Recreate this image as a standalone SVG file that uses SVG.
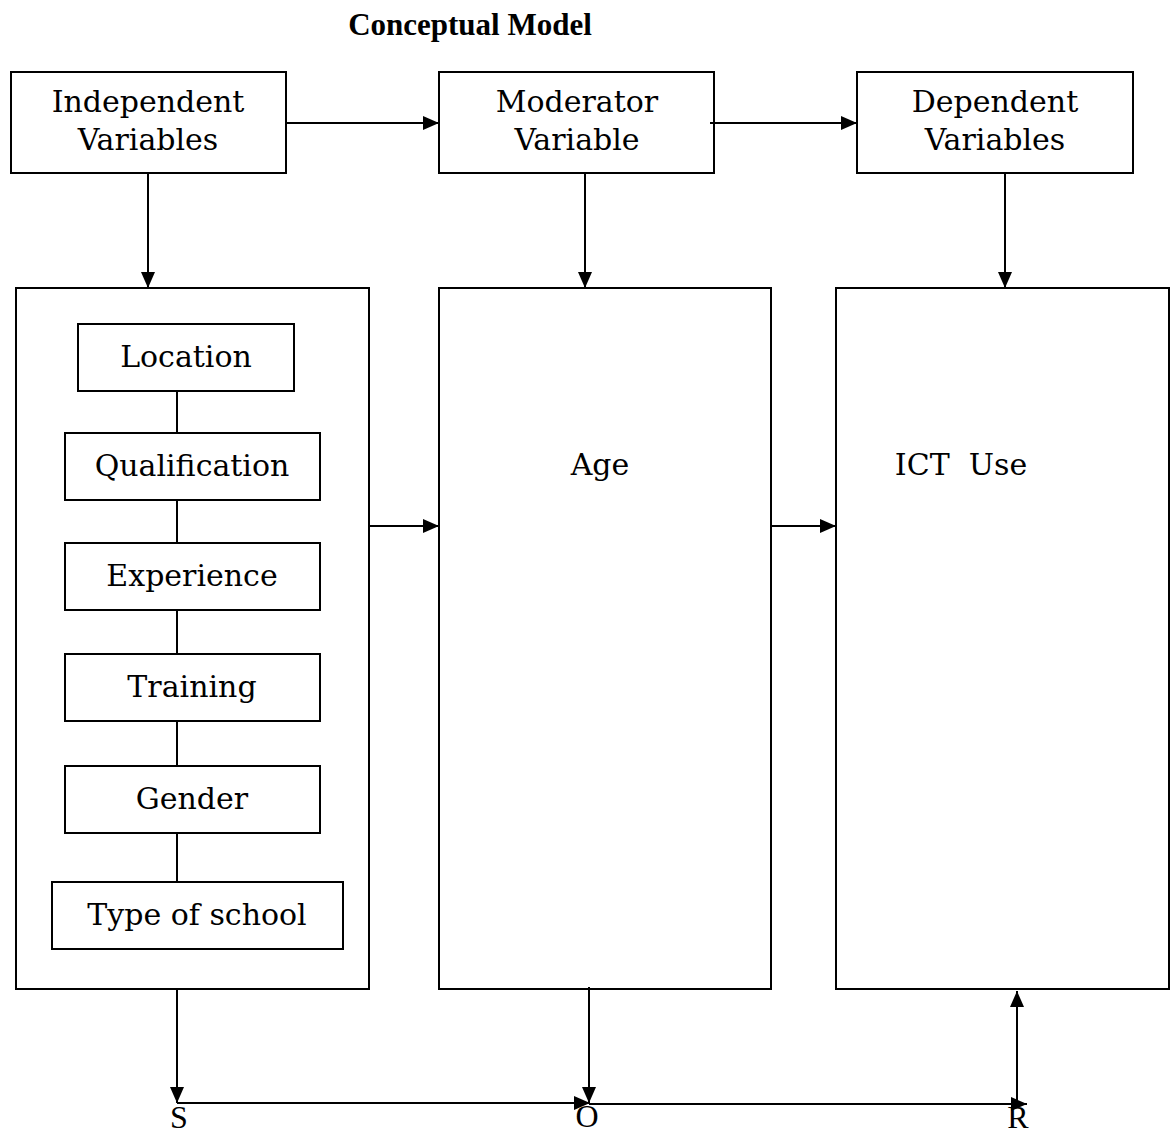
<svg xmlns="http://www.w3.org/2000/svg" width="1175" height="1136" viewBox="0 0 1175 1136">
<style>
.box{fill:#fff;stroke:#000;stroke-width:2}
.t{font-family:"DejaVu Serif","Liberation Serif",serif;font-size:30px;fill:#000;text-anchor:middle}
.c{stroke:#000;stroke-width:2;fill:none}
.lbl{font-family:"Liberation Serif",serif;font-size:32px;fill:#000;text-anchor:middle}
</style>
<defs>
<marker id="ahb" markerWidth="16" markerHeight="14" refX="16" refY="7" orient="auto" markerUnits="userSpaceOnUse" viewBox="0 0 16 14">
<path d="M0,0 L16,7 L0,14 Z" fill="#000"/>
</marker>
</defs>
<rect width="1175" height="1136" fill="#fff"/>
<text x="470" y="35" font-family="Liberation Serif,serif" font-weight="bold" font-size="31" text-anchor="middle">Conceptual Model</text>
<g id="independent"><rect class="box" x="11" y="72" width="275" height="101"/><text class="t" x="148" y="112">Independent</text><text class="t" x="148" y="150">Variables</text></g>
<g id="moderator"><rect class="box" x="439" y="72" width="275" height="101"/><text class="t" x="577" y="112">Moderator</text><text class="t" x="577" y="150">Variable</text></g>
<g id="dependent"><rect class="box" x="857" y="72" width="276" height="101"/><text class="t" x="995" y="112">Dependent</text><text class="t" x="995" y="150">Variables</text></g>
<g id="independent-group"><rect class="box" x="16" y="288" width="353" height="701"/></g>
<g id="age"><rect class="box" x="439" y="288" width="332" height="701"/><text class="t" x="600" y="475">Age</text></g>
<g id="ict-use"><rect class="box" x="836" y="288" width="333" height="701"/><text class="t" x="961" y="475" xml:space="preserve">ICT  Use</text></g>
<g id="connectors">
<line class="c" x1="286" y1="123" x2="439" y2="123" marker-end="url(#ahb)"/>
<line class="c" x1="710" y1="123" x2="857" y2="123" marker-end="url(#ahb)"/>
<line class="c" x1="148" y1="173" x2="148" y2="288" marker-end="url(#ahb)"/>
<line class="c" x1="585" y1="173" x2="585" y2="288" marker-end="url(#ahb)"/>
<line class="c" x1="1005" y1="173" x2="1005" y2="288" marker-end="url(#ahb)"/>
<line class="c" x1="177" y1="391" x2="177" y2="433"/>
<line class="c" x1="177" y1="500" x2="177" y2="543"/>
<line class="c" x1="177" y1="610" x2="177" y2="654"/>
<line class="c" x1="177" y1="721" x2="177" y2="766"/>
<line class="c" x1="177" y1="833" x2="177" y2="882"/>
<line class="c" x1="369" y1="526" x2="439" y2="526" marker-end="url(#ahb)"/>
<line class="c" x1="771" y1="526" x2="836" y2="526" marker-end="url(#ahb)"/>
<line class="c" x1="177" y1="989" x2="177" y2="1103" marker-end="url(#ahb)"/>
<line class="c" x1="177" y1="1103" x2="590" y2="1103" marker-end="url(#ahb)"/>
<line class="c" x1="589" y1="987" x2="589" y2="1103" marker-end="url(#ahb)"/>
<line class="c" x1="589" y1="1104" x2="1027" y2="1104" marker-end="url(#ahb)"/>
<line class="c" x1="1017" y1="1104" x2="1017" y2="991" marker-end="url(#ahb)"/>
</g>
<g id="location"><rect class="box" x="78" y="324" width="216" height="67"/><text class="t" x="186" y="367">Location</text></g>
<g id="qualification"><rect class="box" x="65" y="433" width="255" height="67"/><text class="t" x="192" y="476">Qualification</text></g>
<g id="experience"><rect class="box" x="65" y="543" width="255" height="67"/><text class="t" x="192" y="586">Experience</text></g>
<g id="training"><rect class="box" x="65" y="654" width="255" height="67"/><text class="t" x="192" y="697">Training</text></g>
<g id="gender"><rect class="box" x="65" y="766" width="255" height="67"/><text class="t" x="192" y="809">Gender</text></g>
<g id="type-of-school"><rect class="box" x="52" y="882" width="291" height="67"/><text class="t" x="197" y="925">Type of school</text></g>
<text class="lbl" x="179" y="1128">S</text>
<text class="lbl" x="587" y="1127">O</text>
<text class="lbl" x="1018" y="1128">R</text>
</svg>
